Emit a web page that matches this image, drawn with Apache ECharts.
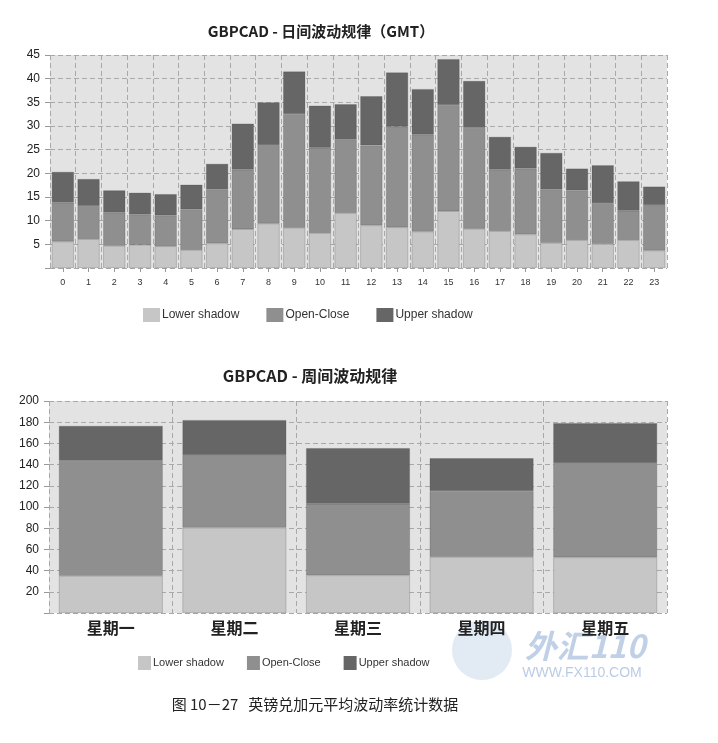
<!DOCTYPE html>
<html>
<head>
<meta charset="utf-8">
<script src="https://cdn.jsdelivr.net/npm/echarts@6/dist/echarts.min.js"></script>
<style>
html,body{margin:0;padding:0;background:#fff;}
#c{width:718px;height:743px;}
</style>
</head>
<body>
<div id="c"></div>
<script>
// ---- data ----
var hourCats = ['0','1','2','3','4','5','6','7','8','9','10','11','12','13','14','15','16','17','18','19','20','21','22','23'];
var hourLower = [5.6,6.1,4.7,4.9,4.6,3.8,5.2,8.2,9.4,8.5,7.4,11.6,9.0,8.6,7.7,12.0,8.3,7.8,7.1,5.3,5.9,5.1,5.9,3.7];
var hourOpenClose = [8.2,7.0,7.0,6.4,6.5,8.6,11.4,12.6,16.6,24.0,18.0,15.6,16.9,21.3,20.5,22.4,21.3,13.0,13.9,11.3,10.5,8.6,6.2,9.6];
var hourUpper = [6.5,5.7,4.7,4.6,4.5,5.2,5.4,9.7,9.0,9.0,8.9,7.4,10.4,11.4,9.6,9.7,9.9,6.9,4.6,7.7,4.6,8.0,6.2,3.9];

var dayCats = ['星期一','星期二','星期三','星期四','星期五'];
var dayLower = [35,80.5,35.5,53,52.5];
var dayOpenClose = [108.5,68.5,67.5,62,89];
var dayUpper = [33,33,52.5,31,37.5];

var seriesNames = ['Lower shadow','Open-Close','Upper shadow'];
var topTitle = 'GBPCAD - 日间波动规律（GMT）';
var bottomTitle = 'GBPCAD - 周间波动规律';
var caption = '图 10－27   英镑兑加元平均波动率统计数据';

// ---- styles ----
var colors = ['#c6c6c6','#8f8f8f','#666666'];
var latin = '"Liberation Sans", Arial, sans-serif';
var cjk = '"Noto Sans CJK SC", sans-serif';
var splitStyle = {color:'#a8a8a8', type:[5,3], width:1};

function mkSeries(name, data, idx, stackName, axisIdx, gap){
  return {
    name:name, type:'bar', stack:stackName, data:data,
    xAxisIndex:axisIdx, yAxisIndex:axisIdx,
    barCategoryGap:gap,
    itemStyle:{color:colors[idx], borderColor:'rgba(70,70,70,0.4)', borderWidth:0.6},
    emphasis:{disabled:true}
  };
}

var chart = echarts.init(document.getElementById('c'), null, {renderer:'canvas'});
chart.setOption({
  animation:false,
  color:colors,
  grid:[
    {left:50, top:55, width:617, height:213, show:true, backgroundColor:'#e3e3e3', borderWidth:0},
    {left:49, top:401, width:618, height:212, show:true, backgroundColor:'#e3e3e3', borderWidth:0}
  ],
  legend:[
    {left:143, top:308, padding:0, itemWidth:17, itemHeight:14, itemGap:27, icon:'rect',
     itemStyle:{borderWidth:0},
     data:seriesNames, textStyle:{fontFamily:latin, fontSize:12, color:'#333', padding:[0,0,0,-3]}, selectedMode:false},
    {left:138, top:656, padding:0, itemWidth:13, itemHeight:14, itemGap:23, icon:'rect',
     itemStyle:{borderWidth:0},
     data:seriesNames, textStyle:{fontFamily:latin, fontSize:11, color:'#333', padding:[0,0,0,-3]}, selectedMode:false}
  ],
  xAxis:[
    {type:'category', gridIndex:0, data:hourCats,
     axisLine:{show:false}, axisTick:{show:true, alignWithLabel:true, length:4, lineStyle:{color:'#999'}},
     axisLabel:{fontFamily:latin, fontSize:9, color:'#333', margin:10},
     splitLine:{show:true, lineStyle:splitStyle}},
    {type:'category', gridIndex:1, data:dayCats,
     axisLine:{show:false}, axisTick:{show:false},
     axisLabel:{fontFamily:cjk, fontWeight:'bold', fontSize:16, color:'#222', margin:7},
     splitLine:{show:true, lineStyle:splitStyle}}
  ],
  yAxis:[
    {type:'value', gridIndex:0, min:0, max:45, interval:5,
     axisLine:{show:false}, axisTick:{show:true, length:5, lineStyle:{color:'#999'}},
     axisLabel:{fontFamily:latin, fontSize:12, color:'#222', margin:10,
       formatter:function(v){return v===0?'':String(v);}},
     splitLine:{show:true, lineStyle:splitStyle}},
    {type:'value', gridIndex:1, min:0, max:200, interval:20,
     axisLine:{show:false}, axisTick:{show:true, length:5, lineStyle:{color:'#999'}},
     axisLabel:{fontFamily:latin, fontSize:12, color:'#222', margin:10,
       formatter:function(v){return v===0?'':String(v);}},
     splitLine:{show:true, lineStyle:splitStyle}}
  ],
  series:[
    mkSeries(seriesNames[0], hourLower, 0, 'h', 0, '14%'),
    mkSeries(seriesNames[1], hourOpenClose, 1, 'h', 0, '14%'),
    mkSeries(seriesNames[2], hourUpper, 2, 'h', 0, '14%'),
    mkSeries(seriesNames[0], dayLower, 0, 'd', 1, '16%'),
    mkSeries(seriesNames[1], dayOpenClose, 1, 'd', 1, '16%'),
    mkSeries(seriesNames[2], dayUpper, 2, 'd', 1, '16%')
  ],
  graphic:[
    {type:'circle', shape:{cx:482, cy:650, r:30}, style:{fill:'rgba(150,180,215,0.28)'}, z:-1, silent:true},
    {type:'text', x:585, y:646, z:-1, silent:true,
     style:{text:'外汇110', font:'italic bold 32px '+cjk, fill:'rgba(140,170,210,0.55)', align:'center', verticalAlign:'middle'}},
    {type:'text', x:582, y:673, z:-1, silent:true,
     style:{text:'WWW.FX110.COM', font:'14px '+latin, fill:'rgba(140,170,210,0.6)', align:'center', verticalAlign:'middle'}},
    {type:'text', x:321, y:31,
     style:{text:topTitle, font:'bold 15px '+cjk, fill:'#222', align:'center', verticalAlign:'middle'}},
    {type:'text', x:310, y:376,
     style:{text:bottomTitle, font:'bold 16px '+cjk, fill:'#222', align:'center', verticalAlign:'middle'}},
    {type:'text', x:315, y:704,
     style:{text:caption, font:'15px '+cjk, fill:'#222', align:'center', verticalAlign:'middle'}}
  ]
});
</script>
</body>
</html>
